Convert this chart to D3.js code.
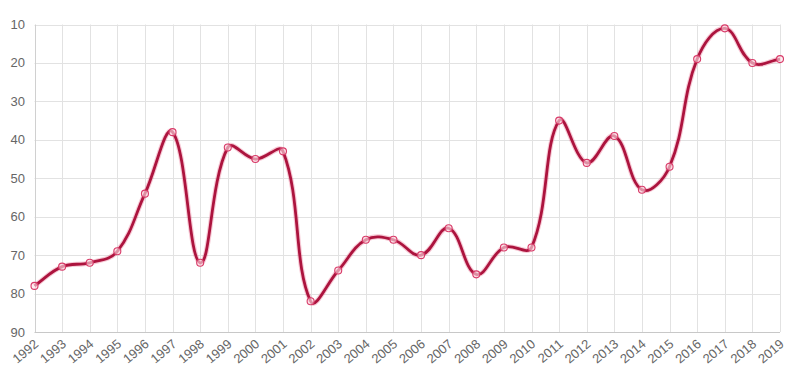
<!DOCTYPE html>
<html><head><meta charset="utf-8">
<script src="https://cdn.jsdelivr.net/npm/d3@7"></script>
<style>html,body{margin:0;padding:0;background:#fff;}svg{display:block;}</style>
</head><body>
<script>
const years = ["1992","1993","1994","1995","1996","1997","1998","1999","2000","2001","2002","2003","2004","2005","2006","2007","2008","2009","2010","2011","2012","2013","2014","2015","2016","2017","2018","2019"];
const values = [78,73,72,69,54,38,72,42,45,43,82,74,66,66,70,63,75,68,68,35,46,39,53,47,19,11,20,19];
const yTicks = [10,20,30,40,50,60,70,80,90];

const W = 801, H = 378;
const mLeft = 34.5, mRight = 780, mTop = 24.5, mBottom = 332;

const svg = d3.select("body").append("svg").attr("width", W).attr("height", H);
const x = d3.scalePoint().domain(years).range([mLeft, mRight]);
const y = d3.scaleLinear().domain([10, 90]).range([mTop, mBottom]);

const grid = svg.append("g");
grid.selectAll("line.h").data(yTicks).join("line")
  .attr("x1", mLeft).attr("x2", mRight)
  .attr("y1", d => Math.round(y(d)) + 0.5).attr("y2", d => Math.round(y(d)) + 0.5)
  .attr("stroke", d => d === 90 ? "#c8c8c8" : "#e2e2e2").attr("stroke-width", 1);
grid.selectAll("line.v").data(years).join("line")
  .attr("y1", mTop).attr("y2", mBottom)
  .attr("x1", d => Math.round(x(d)) + 0.5).attr("x2", d => Math.round(x(d)) + 0.5)
  .attr("stroke", (d, i) => i === 0 ? "#d0d0d0" : "#e2e2e2").attr("stroke-width", 1);

const font = "'Liberation Sans', Arial, Helvetica, sans-serif";
svg.append("g").selectAll("text").data(yTicks).join("text")
  .attr("x", 25).attr("y", d => y(d))
  .attr("text-anchor", "end").attr("dominant-baseline", "central")
  .attr("font-family", font).attr("font-size", 13).attr("fill", "#666")
  .text(d => d);

svg.append("g").selectAll("text").data(years).join("text")
  .attr("transform", d => `translate(${x(d) + 2},${mBottom + 10}) rotate(-40)`)
  .attr("text-anchor", "end").attr("dominant-baseline", "central")
  .attr("font-family", font).attr("font-size", 13).attr("fill", "#666")
  .text(d => d);

// Chart.js-style spline (tension 0.4), drawn from scaled points
const pts = years.map((yr, i) => ({x: x(yr), y: y(values[i])}));
const t = 0.4;
pts.forEach((p, i) => {
  const prev = pts[i - 1] || p, next = pts[i + 1] || p;
  const d01 = Math.hypot(p.x - prev.x, p.y - prev.y);
  const d12 = Math.hypot(next.x - p.x, next.y - p.y);
  let s01 = d01 / (d01 + d12), s12 = d12 / (d01 + d12);
  s01 = isNaN(s01) ? 0 : s01; s12 = isNaN(s12) ? 0 : s12;
  const fa = t * s01, fb = t * s12;
  p.cpPx = p.x - fa * (next.x - prev.x);
  p.cpPy = p.y - fa * (next.y - prev.y);
  p.cpNx = p.x + fb * (next.x - prev.x);
  p.cpNy = p.y + fb * (next.y - prev.y);
  const cap = (v, a, b) => Math.max(a, Math.min(b, v));
  p.cpPx = cap(p.cpPx, mLeft, mRight); p.cpNx = cap(p.cpNx, mLeft, mRight);
  p.cpPy = cap(p.cpPy, mTop, mBottom); p.cpNy = cap(p.cpNy, mTop, mBottom);
});
const path = d3.path();
path.moveTo(pts[0].x, pts[0].y);
for (let i = 1; i < pts.length; i++) {
  const a = pts[i - 1], b = pts[i];
  path.bezierCurveTo(a.cpNx, a.cpNy, b.cpPx, b.cpPy, b.x, b.y);
}
svg.append("path").attr("d", path.toString())
  .attr("fill", "none").attr("stroke", "rgba(230,80,120,0.3)").attr("stroke-width", 5);
svg.append("path").attr("d", path.toString())
  .attr("fill", "none").attr("stroke", "#ac143e").attr("stroke-width", 2.8);

svg.append("g").selectAll("circle").data(pts).join("circle")
  .attr("cx", d => d.x).attr("cy", d => d.y).attr("r", 3.5)
  .attr("fill", "rgba(255,225,232,0.6)").attr("stroke", "#d83a68").attr("stroke-width", 1.1);
</script>
</body></html>
